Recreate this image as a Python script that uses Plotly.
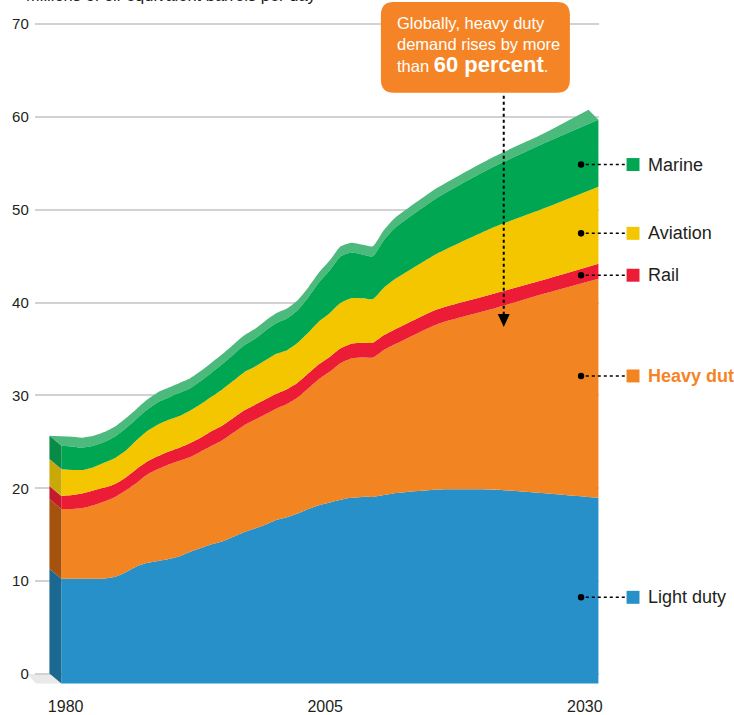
import numpy as np
import plotly.graph_objects as go

# transport fuel demand, millions of oil-equivalent barrels per day
years = [1980, 1981, 1982, 1983, 1984, 1985, 1986, 1987, 1988, 1989,
         1990, 1991, 1992, 1993, 1994, 1995, 1996, 1997, 1998, 1999,
         2000, 2001, 2002, 2003, 2004, 2005, 2006, 2007, 2008, 2009,
         2010, 2011, 2015, 2020, 2025, 2030]
light_duty = [11.3, 11.3, 11.3, 11.3, 11.3, 11.5, 12.0, 12.6, 13.0, 13.2,
              13.4, 13.7, 14.2, 14.6, 15.0, 15.3, 15.8, 16.3, 16.7, 17.1,
              17.6, 17.9, 18.3, 18.8, 19.2, 19.5, 19.8, 20.0, 20.1, 20.1,
              20.3, 20.5, 20.9, 20.9, 20.5, 20.0]
heavy_duty = [7.5, 7.5, 7.6, 7.9, 8.3, 8.6, 8.8, 9.0, 9.5, 9.9,
              10.2, 10.3, 10.2, 10.4, 10.6, 10.9, 11.2, 11.5, 11.7, 11.9,
              12.0, 12.2, 12.5, 13.0, 13.6, 14.1, 14.7, 15.0, 15.0, 15.0,
              15.6, 16.0, 17.8, 19.4, 21.5, 23.6]
rail = [1.4, 1.5, 1.6, 1.6, 1.5, 1.4, 1.4, 1.5, 1.4, 1.4,
        1.4, 1.4, 1.5, 1.5, 1.6, 1.6, 1.6, 1.6, 1.6, 1.6,
        1.6, 1.6, 1.6, 1.6, 1.6, 1.6, 1.6, 1.6, 1.6, 1.6,
        1.6, 1.6, 1.6, 1.6, 1.5, 1.6]
aviation = [2.9, 2.7, 2.5, 2.5, 2.7, 2.8, 2.9, 3.1, 3.3, 3.4,
            3.4, 3.4, 3.5, 3.6, 3.7, 3.9, 4.0, 4.1, 4.1, 4.2,
            4.3, 4.2, 4.3, 4.4, 4.6, 4.7, 4.9, 4.9, 4.8, 4.7,
            5.1, 5.4, 6.0, 7.1, 7.7, 8.3]
marine = [2.5, 2.5, 2.4, 2.3, 2.2, 2.3, 2.4, 2.3, 2.3, 2.4,
          2.4, 2.5, 2.4, 2.5, 2.6, 2.7, 2.8, 2.9, 3.0, 3.2,
          3.3, 3.4, 3.5, 3.8, 4.2, 4.6, 5.0, 4.9, 4.7, 4.6,
          5.1, 5.5, 6.0, 6.5, 7.0, 7.2]

sector_names = ["Light duty", "Heavy duty", "Rail", "Aviation", "Marine"]
x_tick_years = [1980, 2005, 2030]
y_ticks = [0, 10, 20, 30, 40, 50, 60, 70]

title_text = "Millions of oil-equivalent barrels per day"
callout_text = ("Globally, heavy duty<br>demand rises by more<br>than "
                "<b><span style='font-size:22px'>60 percent</span></b>.")

front_colors = ["#2790c9", "#f38422", "#ed1c36", "#f3c600", "#00a651"]
side_colors = ["#1b6990", "#a4520e", "#c41a2c", "#c9a90a", "#0a8a47"]
top_color = "#4cba7d"
ORANGE = "#f58426"

W, H = 734, 715
def px(x):
    return x / W
def py(y):
    return 1 - y / H

# front face geometry (pixels)
X0, PPY = 61.7, 10.8     # 1980 position, px per year
Y0, PPU = 685.5, 9.314   # zero line, px per unit
DX = 12 / PPY            # depth offset of the 3d extrusion
DXR = 10 / PPY
DY = 10 / PPU

layers = np.array([light_duty, heavy_duty, rail, aviation, marine])
cum = np.cumsum(layers, axis=0)
total = cum[-1]
yrs = np.array(years, dtype=float)

SM = 0.5
fig = go.Figure()
# empty trace so the grid subplot is drawn
fig.add_trace(go.Scatter(x=[], y=[], xaxis="x", yaxis="y", showlegend=False))

# top face of the extrusion (front top lifted by the depth)
back_x = yrs.copy()
back_x[0] -= DX
back_x[-1] -= DXR
fig.add_trace(go.Scatter(x=yrs, y=total, mode="lines", xaxis="x2", yaxis="y2",
                         line=dict(width=0, shape="spline", smoothing=SM),
                         hoverinfo="skip", showlegend=False))
fig.add_trace(go.Scatter(x=back_x, y=total + DY, mode="lines", xaxis="x2", yaxis="y2",
                         fill="tonexty", fillcolor=top_color,
                         line=dict(width=0, shape="spline", smoothing=SM),
                         hoverinfo="skip", showlegend=False))

# front face, stacked
for i, name in enumerate(sector_names):
    fig.add_trace(go.Scatter(x=yrs, y=cum[i], mode="lines", name=name,
                             xaxis="x2", yaxis="y2",
                             fill="tozeroy" if i == 0 else "tonexty",
                             fillcolor=front_colors[i],
                             line=dict(width=0, shape="spline", smoothing=SM),
                             showlegend=False))

# left side face
for i in range(len(sector_names)):
    b = 0 if i == 0 else cum[i - 1][0]
    t = cum[i][0]
    x0 = yrs[0]
    fig.add_trace(go.Scatter(x=[x0 - DX, x0, x0, x0 - DX], y=[b + DY, b, t, t + DY],
                             mode="lines", fill="toself", fillcolor=side_colors[i],
                             line=dict(width=0), xaxis="x2", yaxis="y2",
                             hoverinfo="skip", showlegend=False))

shapes = []
annotations = []

# floor shadow left of the side face
shapes.append(dict(type="path", xref="paper", yref="paper", layer="below",
                   path=f"M {px(28)},{py(676)} L {px(50)},{py(676)} L {px(61.7)},{py(685.5)} "
                        f"L {px(36)},{py(685.5)} Z",
                   fillcolor="#e9e9e9", line=dict(width=0)))

# legend leaders
legend_rows = {"Marine": 165, "Aviation": 234, "Rail": 276, "Heavy duty": 377, "Light duty": 599}
for i, name in enumerate(sector_names):
    yy = legend_rows[name]
    shapes.append(dict(type="circle", xref="paper", yref="paper",
                       x0=px(581), x1=px(587.5), y0=py(yy + 3.3), y1=py(yy - 3.3),
                       fillcolor="black", line=dict(width=0)))
    shapes.append(dict(type="line", xref="paper", yref="paper",
                       x0=px(589), x1=px(629), y0=py(yy), y1=py(yy),
                       line=dict(color="black", width=1.5, dash="dot")))
    shapes.append(dict(type="rect", xref="paper", yref="paper",
                       x0=px(630), x1=px(643), y0=py(yy + 6.5), y1=py(yy - 6.5),
                       fillcolor=front_colors[i], line=dict(width=0)))
    bold = name == "Heavy duty"
    annotations.append(dict(x=px(650), y=py(yy), xref="paper", yref="paper",
                            text=f"<b>{name}</b>" if bold else name, showarrow=False,
                            xanchor="left", yanchor="middle",
                            font=dict(size=18, color=ORANGE if bold else "#231f20",
                                      family="Liberation Sans, Arial, sans-serif")))

# callout box
bx0, bx1, by0, by1, r = 383, 573, 2, 93, 13
shapes.append(dict(type="path", xref="paper", yref="paper",
                   path=(f"M {px(bx0 + r)},{py(by0)} L {px(bx1 - r)},{py(by0)} "
                         f"Q {px(bx1)},{py(by0)} {px(bx1)},{py(by0 + r)} "
                         f"L {px(bx1)},{py(by1 - r)} Q {px(bx1)},{py(by1)} {px(bx1 - r)},{py(by1)} "
                         f"L {px(bx0 + r)},{py(by1)} Q {px(bx0)},{py(by1)} {px(bx0)},{py(by1 - r)} "
                         f"L {px(bx0)},{py(by0 + r)} Q {px(bx0)},{py(by0)} {px(bx0 + r)},{py(by0)} Z"),
                   fillcolor=ORANGE, line=dict(width=0)))
annotations.append(dict(x=px(397), y=py(46), xref="paper", yref="paper",
                        text=callout_text, showarrow=False, align="left",
                        xanchor="left", yanchor="middle",
                        font=dict(size=16.5, color="white",
                                  family="Liberation Sans, Arial, sans-serif")))
# dotted arrow from the callout
shapes.append(dict(type="line", xref="paper", yref="paper",
                   x0=px(506.5), x1=px(506.5), y0=py(96), y1=py(316),
                   line=dict(color="black", width=2, dash="dot")))
shapes.append(dict(type="path", xref="paper", yref="paper",
                   path=f"M {px(500.5)},{py(315)} L {px(512.5)},{py(315)} L {px(506.5)},{py(328)} Z",
                   fillcolor="black", line=dict(width=0)))

# cut-off unit title
annotations.append(dict(x=px(24), y=py(-5), xref="paper", yref="paper", text=title_text,
                        showarrow=False, xanchor="left", yanchor="middle",
                        font=dict(size=16.5, color="#231f20", family="Liberation Sans, Arial")))

# label axis: 1980 at 66px, 2030 at 588px
LPPY = (588 - 66) / 50
fig.update_layout(
    width=W, height=H,
    margin=dict(l=0, r=0, t=0, b=0),
    paper_bgcolor="white", plot_bgcolor="rgba(0,0,0,0)",
    showlegend=False,
    xaxis=dict(domain=[px(35), px(602)], anchor="free", position=py(697),
               range=[1980 - (66 - 35) / LPPY, 1980 + (602 - 66) / LPPY],
               tickvals=x_tick_years, showgrid=False, zeroline=False, showline=False,
               ticks="", tickfont=dict(size=16, color="#231f20", family="Liberation Sans, Arial"),
               fixedrange=True),
    yaxis=dict(domain=[0, 1], anchor="x",
               range=[-(H - 676) / PPU, 676 / PPU],
               tickvals=y_ticks, showgrid=True, gridcolor="#d2d2d2", gridwidth=1.5,
               zeroline=False, showline=False, ticks="", ticklabelstandoff=5,
               tickfont=dict(size=15, color="#231f20", family="Liberation Sans, Arial"),
               fixedrange=True),
    xaxis2=dict(domain=[0, 1], anchor="y2",
                range=[1980 - X0 / PPY, 1980 + (W - X0) / PPY],
                visible=False, fixedrange=True),
    yaxis2=dict(domain=[0, 1], anchor="x2",
                range=[-(H - Y0) / PPU, Y0 / PPU],
                visible=False, fixedrange=True),
    shapes=shapes,
    annotations=annotations,
)

fig.write_html("out.html", config={"displayModeBar": False},
               post_script="document.body.style.margin='0';")
